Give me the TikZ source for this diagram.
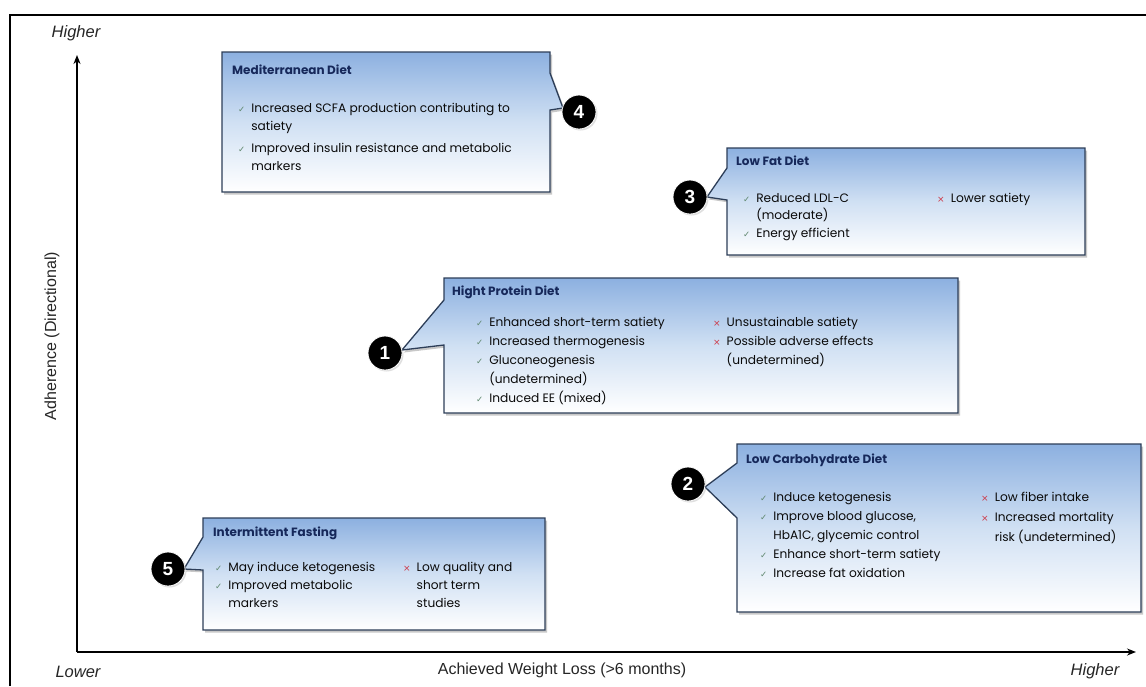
\documentclass[tikz,border=0pt]{standalone}
\usepackage{fontspec}
\setmainfont{Poppins}
\newfontfamily\axfont{Liberation Sans}
\newfontfamily\symfont{DejaVu Sans}
\usetikzlibrary{shadows,arrows.meta}
\definecolor{boxtop}{RGB}{140,176,224}
\definecolor{boxmid}{RGB}{208,224,243}
\definecolor{boxedge}{RGB}{45,62,88}
\definecolor{titlec}{RGB}{22,40,90}
\definecolor{textc}{RGB}{10,10,10}
\definecolor{checkc}{RGB}{95,135,110}
\definecolor{crossc}{RGB}{205,55,70}
\newcommand\ck{{\symfont\fontsize{8.5}{8.5}\selectfont\color{checkc}✓}}
\newcommand\crs{{\symfont\fontsize{9}{9}\selectfont\color{crossc}×}}
\begin{document}
\begin{tikzpicture}[x=1pt,y=-1pt,
  callout/.style={draw=boxedge, line width=1.3pt, line join=miter,
    top color=boxtop, bottom color=white, middle color=boxmid,
    drop shadow={opacity=0.3, shadow xshift=2pt, shadow yshift=-2.5pt, fill=black!70}},
  numc/.style={circle, fill=black, draw=white, line width=0.8pt, text=white,
    font=\axfont\bfseries\fontsize{19}{19}\selectfont, minimum size=34pt, inner sep=0pt,
    drop shadow={opacity=0.25, shadow xshift=1.5pt, shadow yshift=-1.5pt}},
  ttl/.style={anchor=west, inner sep=0pt, text=titlec, font=\bfseries\fontsize{12}{14}\selectfont},
  body/.style={anchor=base west, inner sep=0pt, text=textc, font=\fontsize{12.2}{18.5}\selectfont},
  axlab/.style={font=\axfont\fontsize{16}{16}\selectfont, text=black!85, inner sep=0pt},
  axend/.style={font=\axfont\itshape\fontsize{16.5}{16.5}\selectfont, text=black!85, inner sep=0pt},
  axisline/.style={line width=1.8pt, -{Stealth[length=9pt,width=7pt]}}
]
\fill[white] (0,0) rectangle (1146,686);
\useasboundingbox (0,0) rectangle (1146,686);
% frame
\draw[line width=2.5pt] (10,686) -- (10,15) -- (1146,15);
% axes
\coordinate (o) at (77,652);
\coordinate (ytip) at (77,55);
\coordinate (xtip) at (1136,652);
\draw[axisline] (o) -- (ytip);
\draw[axisline] (o) -- (xtip);
\node[axend] (yhi) at (76,33) {Higher};
\node[axend] (xlo) at (78,672) {Lower};
\node[axend] (xhi) at (1095,671) {Higher};
\node[axlab] (xlab) at (562,670) {Achieved Weight Loss (>6 months)};
\node[axlab, rotate=90] (ylab) at (52,336) {Adherence (Directional)};

% tips
\coordinate (t4) at (563,108);
\coordinate (t3) at (707,197);
\coordinate (t1) at (402,350);
\coordinate (t2) at (705,487);
\coordinate (t5) at (184,569);

% Mediterranean
\path[callout] (222,52) -- (550,52) -- (550,73) -- (t4) -- (550,110) -- (550,192) -- (222,192) -- cycle;
\node[ttl] (med) at (232,70) {Mediterranean Diet};
\node[body] (medb) at (238,112) {\begin{tabular}[t]{@{}c@{\hspace{6pt}}l@{}}\ck & Increased SCFA production contributing to\\ & satiety\\[3pt] \ck & Improved insulin resistance and metabolic\\ & markers\end{tabular}};
\node[numc] (c4) at (579,112) {4};

% Low Fat
\path[callout] (727,148) -- (1085,148) -- (1085,255) -- (727,255) -- (727,200) -- (t3) -- (727,168) -- cycle;
\node[ttl] (lf) at (736,161) {Low Fat Diet};
\node[body, font=\fontsize{12.2}{17.5}\selectfont] (lfa) at (743,202) {\begin{tabular}[t]{@{}c@{\hspace{6pt}}l@{}}\ck & Reduced LDL-C\\ & (moderate)\\ \ck & Energy efficient\end{tabular}};
\node[body] (lfb) at (937,202) {\begin{tabular}[t]{@{}c@{\hspace{6pt}}l@{}}\crs & Lower satiety\end{tabular}};
\node[numc] (c3) at (690,197) {3};

% High Protein
\path[callout] (444,278) -- (958,278) -- (958,413) -- (444,413) -- (444,345) -- (t1) -- (444,300) -- cycle;
\node[ttl] (hp) at (452,292) {Hight Protein Diet};
\node[body, font=\fontsize{12.2}{19.2}\selectfont] (hpa) at (476,326) {\begin{tabular}[t]{@{}c@{\hspace{6pt}}l@{}}\ck & Enhanced short-term satiety\\ \ck & Increased thermogenesis\\ \ck & Gluconeogenesis\\ & (undetermined)\\ \ck & Induced EE (mixed)\end{tabular}};
\node[body, font=\fontsize{12.2}{19}\selectfont] (hpb) at (713,326) {\begin{tabular}[t]{@{}c@{\hspace{6pt}}l@{}}\crs & Unsustainable satiety\\ \crs & Possible adverse effects\\ & (undetermined)\end{tabular}};
\node[numc] (c1) at (385,353) {1};

% Low Carb
\path[callout] (737,444) -- (1141,444) -- (1141,612) -- (737,612) -- (737,518) -- (t2) -- (737,463) -- cycle;
\node[ttl] (lc) at (746,460) {Low Carbohydrate Diet};
\node[body, font=\fontsize{12.2}{19.2}\selectfont] (lca) at (760,501) {\begin{tabular}[t]{@{}c@{\hspace{6pt}}l@{}}\ck & Induce ketogenesis\\ \ck & Improve blood glucose,\\ & HbA1C, glycemic control\\ \ck & Enhance short-term satiety\\ \ck & Increase fat oxidation\end{tabular}};
\node[body, font=\fontsize{12.2}{20}\selectfont] (lcb) at (981,501) {\begin{tabular}[t]{@{}c@{\hspace{6pt}}l@{}}\crs & Low fiber intake\\ \crs & Increased mortality\\ & risk (undetermined)\end{tabular}};
\node[numc] (c2) at (688,484) {2};

% Intermittent Fasting
\path[callout] (203,518) -- (545,518) -- (545,630) -- (203,630) -- (203,570) -- (t5) -- (203,537) -- cycle;
\node[ttl] (if) at (213,533) {Intermittent Fasting};
\node[body, font=\fontsize{12.2}{18}\selectfont] (ifa) at (215,571) {\begin{tabular}[t]{@{}c@{\hspace{6pt}}l@{}}\ck & May induce ketogenesis\\ \ck & Improved metabolic\\ & markers\end{tabular}};
\node[body, font=\fontsize{12.2}{18}\selectfont] (ifb) at (403,571) {\begin{tabular}[t]{@{}c@{\hspace{6pt}}l@{}}\crs & Low quality and\\ & short term\\ & studies\end{tabular}};
\node[numc] (c5) at (168,569) {5};
\end{tikzpicture}
\end{document}
